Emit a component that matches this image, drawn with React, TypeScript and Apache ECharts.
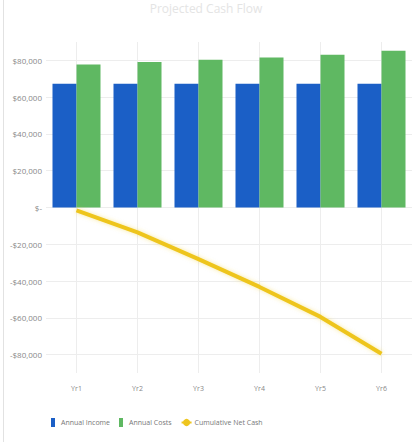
import React, { useEffect, useRef } from "react";
import * as echarts from "echarts";

const title = "Projected Cash Flow";
const categories = ["Yr1", "Yr2", "Yr3", "Yr4", "Yr5", "Yr6"];
const seriesNames = ["Annual Income", "Annual Costs", "Cumulative Net Cash"];
const income = [67300, 67300, 67300, 67300, 67300, 67300];
const costs = [77700, 79100, 80400, 81600, 83100, 85200];
const cumulative = [-1600, -13500, -28100, -43200, -59500, -79500];
const yTicks = [-80000, -60000, -40000, -20000, 0, 20000, 40000, 60000, 80000];

function fmt(v: number): string {
  if (v === 0) return "$-";
  const s = "$" + Math.abs(v).toLocaleString("en-US");
  return v < 0 ? "-" + s : s;
}

export default function App() {
  const ref = useRef<HTMLDivElement>(null);
  useEffect(() => {
    if (!ref.current) return;
    const chart = echarts.init(ref.current, undefined, { renderer: "svg" });
    const barIcon = "path://M0,0h4v9h-4z";
    chart.setOption({
      animation: false,
      backgroundColor: "#ffffff",
      title: {
        text: title,
        left: "center",
        top: -3,
        textStyle: { color: "#e4e4e4", fontSize: 12, fontWeight: "normal", fontFamily: "Open Sans" },
      },
      graphic: [
        {
          type: "line",
          shape: { x1: 3.5, y1: 0, x2: 3.5, y2: 442 },
          style: { stroke: "#e2e2e2", lineWidth: 1 },
          silent: true,
        },
      ],
      grid: { left: 46, right: 0, top: 42, bottom: 69 },
      legend: {
        bottom: 10,
        left: 46,
        itemGap: 9,
        itemWidth: 10,
        itemHeight: 9,
        symbolKeepAspect: true,
        textStyle: { color: "#777", fontSize: 7, fontFamily: "Open Sans", padding: [0, 0, 0, -2] },
        data: [
          { name: seriesNames[0], icon: barIcon },
          { name: seriesNames[1], icon: barIcon },
          { name: seriesNames[2] },
        ],
      },
      xAxis: {
        type: "category",
        data: categories,
        axisLine: { show: false },
        axisTick: { show: false, alignWithLabel: true },
        axisLabel: { color: "#888", fontSize: 7, margin: 12, fontFamily: "Open Sans" },
        splitLine: { show: true, alignWithLabel: true, lineStyle: { color: "#ededed", width: 1 } },
      },
      yAxis: {
        type: "value",
        min: -90000,
        max: 90000,
        axisLine: { show: false },
        axisTick: { show: false, customValues: yTicks },
        axisLabel: {
          customValues: yTicks,
          color: "#888",
          fontSize: 8,
          margin: 4,
          fontFamily: "Open Sans",
          formatter: (v: number) => fmt(v),
        },
        splitLine: { show: true, lineStyle: { color: "#ededed", width: 1 } },
      },
      series: [
        {
          name: seriesNames[0],
          type: "bar",
          data: income,
          barWidth: 24,
          barGap: "0%",
          itemStyle: { color: "#1b5fc6" },
        },
        {
          name: seriesNames[1],
          type: "bar",
          data: costs,
          barWidth: 24,
          barGap: "0%",
          itemStyle: { color: "#5fb862" },
        },
        {
          name: seriesNames[2],
          type: "line",
          data: cumulative,
          symbol: "circle",
          symbolSize: 5,
          showSymbol: false,
          lineStyle: { color: "#eec51f", width: 4, shadowColor: "rgba(240,210,60,0.5)", shadowBlur: 4 },
          itemStyle: { color: "#eec51f" },
          z: 5,
        },
      ],
    });
    return () => chart.dispose();
  }, []);
  return (
    <div
      ref={ref}
      style={{ position: "fixed", left: 0, top: 0, width: 412, height: 442 }}
    />
  );
}
